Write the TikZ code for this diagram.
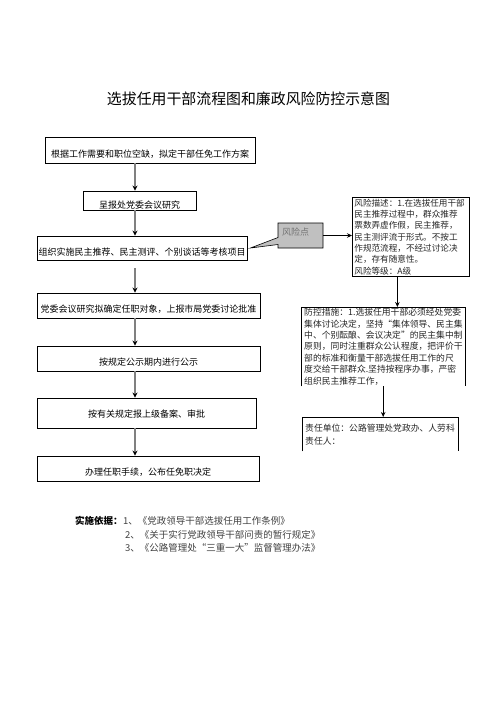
\documentclass[tikz,border=0pt]{standalone}
\usepackage{fontspec}
\setmainfont{Noto Sans CJK SC}
\usetikzlibrary{arrows.meta,shapes.callouts}

\begin{document}
\begin{tikzpicture}[x=1pt, y=-1pt,
    every node/.style={font=\fontsize{9}{11}\selectfont},
    flowbox/.style={draw=black, line width=0.9pt, minimum height=25pt, inner sep=0pt, text height=14pt, text depth=0pt},
    flowarrow/.style={draw=arrowgray, line width=1.4pt, -{Stealth[length=5pt,width=5pt,color=black]}},
    riskarrow/.style={draw=black, line width=0.8pt, -{Stealth[length=5pt,width=4.5pt]}},
    notetext/.style={anchor=north west, align=left, inner xsep=3pt, inner ysep=1pt, text=black!85},
    lawtext/.style={anchor=base west, inner sep=0pt, text=black!75, font=\fontsize{9.5}{12}\selectfont}]
  \definecolor{arrowgray}{RGB}{128,128,128}
  \definecolor{calloutgray}{RGB}{192,192,192}
  \useasboundingbox (0,0) rectangle (496,702);

  \node[font=\fontsize{14.9}{16}\selectfont] (title) at (248.5,99) {选拔任用干部流程图和廉政风险防控示意图};

  % flow column
  \node[flowbox, minimum width=210pt, minimum height=26pt] (plan) at (150,150) {根据工作需要和职位空缺，拟定干部任免工作方案};
  \node[flowbox, minimum width=113pt, minimum height=19pt, text height=16pt] (report) at (139.5,200.5) {呈报处党委会议研究};
  \node[flowbox, minimum width=210pt, minimum height=24pt] (assess) at (142,248) {组织实施民主推荐、民主测评、个别谈话等考核项目};
  \node[flowbox, minimum width=223pt] (decide) at (148.5,305.5) {党委会议研究拟确定任职对象，上报市局党委讨论批准};
  \node[flowbox, minimum width=223pt] (publish) at (148.5,358.5) {按规定公示期内进行公示};
  \node[flowbox, minimum width=219pt, minimum height=30pt, text height=9pt] (file) at (146.5,413) {按有关规定报上级备案、审批};
  \node[flowbox, minimum width=222pt] (appoint) at (148,468.5) {办理任职手续，公布任免职决定};

  \coordinate (col) at (135,0);
  \foreach \a/\b in {plan/report, report/assess, decide/publish, publish/file, file/appoint}
    \draw[flowarrow] (\a.south -| col) -- (\b.north -| col);
  \draw[flowarrow, shorten <=8pt] (assess.south -| col) -- (decide.north -| col);

  % risk point
  \node[rectangle callout, draw=black, line width=0.6pt, fill=calloutgray,
        callout absolute pointer={([xshift=3pt]assess.east)}, callout pointer width=7pt,
        minimum width=45pt, minimum height=25pt, text width=37pt, align=left,
        text height=7pt, text depth=7pt, inner sep=0pt, text=black!55] (risk) at (300.5,235.5) {风险点};

  \node[notetext, draw=black, line width=0.8pt, text width=113pt, inner xsep=2pt, minimum height=79pt,
        font=\fontsize{8.6}{11.3}\selectfont] (desc) at (352,197)
    {风险描述：1.在选拔任用干部\\民主推荐过程中，群众推荐\\票数弄虚作假，民主推荐，\\民主测评流于形式。不按工\\作规范流程，不经过讨论决\\定，存有随意性。\\风险等级：A级};
  \draw[riskarrow] (risk.east) -- (risk.east -| desc.west);

  \node[notetext, text width=158pt, minimum height=79pt,
        font=\fontsize{8.8}{11.4}\selectfont] (measure) at (301,307)
    {防控措施：1.选拔任用干部必须经处党委\\集体讨论决定，坚持“集体领导、民主集\\中、个别酝酿、会议决定”的民主集中制\\原则，同时注重群众公认程度，把评价干\\部的标准和衡量干部选拔任用工作的尺\\度交给干部群众.坚持按程序办事，严密\\组织民主推荐工作，};
  \draw[line width=0.8pt] (measure.south west) -- (measure.north west) -- (measure.north east) -- (measure.south east);

  \node[notetext, text width=150pt, minimum height=34pt, inner ysep=4pt,
        font=\fontsize{8.8}{13}\selectfont] (duty) at (302,417)
    {责任单位：公路管理处党政办、人劳科\\责任人：};
  \draw[line width=0.8pt] (duty.south west) -- (duty.north west) -- (duty.north east) -- (duty.south east);

  \coordinate (drop) at ([xshift=-13.5pt]desc.south);
  \draw[riskarrow] (drop) -- (drop |- measure.north);
  \draw[riskarrow] (measure.south) -- (measure.south |- duty.north);

  % basis
  \node[anchor=base west, inner sep=0pt, font=\fontsize{9.5}{12}\selectfont\bfseries] (basis) at (75,524.5) {实施依据：};
  \node[lawtext] (law1) at (basis.base east) {1、《党政领导干部选拔任用工作条例》};
  \node[lawtext] (law2) at ([xshift=2pt, yshift=-13.5pt]law1.base west) {2、《关于实行党政领导干部问责的暂行规定》};
  \node[lawtext] (law3) at ([yshift=-13.5pt]law2.base west) {3、《公路管理处“三重一大”监督管理办法》};
\end{tikzpicture}
\end{document}
